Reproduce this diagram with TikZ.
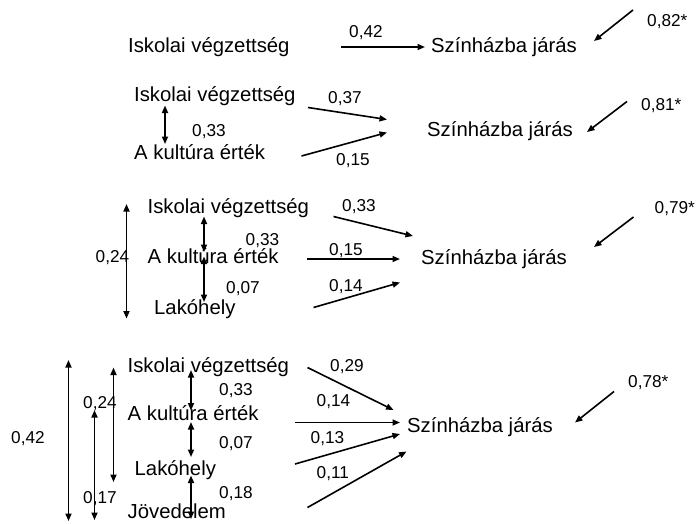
\documentclass[tikz,border=0pt]{standalone}
\usepackage{fontspec}
\setmainfont{Liberation Sans}
\usetikzlibrary{arrows.meta}
\begin{document}
\begin{tikzpicture}[x=1pt,y=-1pt,
  txt/.style={font=\fontsize{20.3}{24}\selectfont, inner sep=0pt, anchor=base west},
  num/.style={font=\fontsize{17.2}{20}\selectfont, inner sep=0pt, anchor=base west},
  arr/.style={-{Triangle[length=7.5pt,width=6pt]}, line width=1.6pt},
  darr/.style={{Triangle[length=7.5pt,width=6pt]}-{Triangle[length=7.5pt,width=6pt]}, line width=1.6pt}]
\useasboundingbox (0,0) rectangle (698,523);

% ---------- Panel 1 ----------
\node[txt] (p1isk) at (128,52) {Iskolai végzettség};
\node[txt] (p1szin) at (431,52.5) {Színházba járás};
\node[num] (p1l42) at (349,37) {0,42};
\node[num] (p1e) at (647,26) {0,82*};
\coordinate (p1a) at (341,47);
\coordinate (p1b) at (425,47);
\draw[arr] (p1a) -- (p1b);
\coordinate (p1ea) at (633,10);
\coordinate (p1eb) at (594,41);
\draw[arr] (p1ea) -- (p1eb);

% ---------- Panel 2 ----------
\node[txt] (p2isk) at (134,101) {Iskolai végzettség};
\node[txt] (p2kul) at (134,159) {A kultúra érték};
\node[txt] (p2szin) at (427,136.5) {Színházba járás};
\node[num] (p2l33) at (192,136) {0,33};
\node[num] (p2l37) at (328,103) {0,37};
\node[num] (p2l15) at (336,165.5) {0,15};
\node[num] (p2e) at (641,110) {0,81*};
\coordinate (p2d1) at (165,105.5);
\coordinate (p2d2) at (165,144);
\draw[darr] (p2d1) -- (p2d2);
\coordinate (p2a1) at (308,107.5);
\coordinate (p2a2) at (387,119.5);
\draw[arr] (p2a1) -- (p2a2);
\coordinate (p2b1) at (301.5,156);
\coordinate (p2b2) at (387,132.5);
\draw[arr] (p2b1) -- (p2b2);
\coordinate (p2ea) at (627,101.5);
\coordinate (p2eb) at (587,132);
\draw[arr] (p2ea) -- (p2eb);

% ---------- Panel 3 ----------
\node[txt] (p3isk) at (147.5,213.5) {Iskolai végzettség};
\node[txt] (p3kul) at (147.5,263.5) {A kultúra érték};
\node[txt] (p3lak) at (154,314.5) {Lakóhely};
\node[txt] (p3szin) at (421,264) {Színházba járás};
\node[num] (p3l24) at (95.5,262.5) {0,24};
\node[num] (p3l33a) at (245.5,245) {0,33};
\node[num] (p3l07) at (226,293.5) {0,07};
\node[num] (p3l33b) at (342,211.5) {0,33};
\node[num] (p3l15) at (329,255.5) {0,15};
\node[num] (p3l14) at (329,291) {0,14};
\node[num] (p3e) at (654.5,213.5) {0,79*};
\coordinate (p3g1) at (126.5,204);
\coordinate (p3g2) at (126.5,318.5);
\draw[darr] (p3g1) -- (p3g2);
\coordinate (p3d1) at (204,216.5);
\coordinate (p3d2) at (204,252);
\draw[darr] (p3d1) -- (p3d2);
\coordinate (p3d3) at (204,256.5);
\coordinate (p3d4) at (204,302);
\draw[darr] (p3d3) -- (p3d4);
\coordinate (p3a1) at (333.5,216.5);
\coordinate (p3a2) at (413,236);
\draw[arr] (p3a1) -- (p3a2);
\coordinate (p3b1) at (307,259);
\coordinate (p3b2) at (400,259);
\draw[arr] (p3b1) -- (p3b2);
\coordinate (p3c1) at (313.5,307.5);
\coordinate (p3c2) at (400,282.5);
\draw[arr] (p3c1) -- (p3c2);
\coordinate (p3ea) at (633.5,217);
\coordinate (p3eb) at (594,247);
\draw[arr] (p3ea) -- (p3eb);

% ---------- Panel 4 ----------
\node[txt] (p4isk) at (127.5,372) {Iskolai végzettség};
\node[txt] (p4kul) at (127.5,420) {A kultúra érték};
\node[txt] (p4lak) at (134.5,475) {Lakóhely};
\node[txt] (p4jov) at (127.5,518) {Jövedelem};
\node[txt] (p4szin) at (407,432.5) {Színházba járás};
\node[num] (p4l42) at (11,443.5) {0,42};
\node[num] (p4l24) at (83,408.5) {0,24};
\node[num] (p4l17) at (83,503.5) {0,17};
\node[num] (p4l33) at (219,395) {0,33};
\node[num] (p4l07) at (219,448) {0,07};
\node[num] (p4l18) at (219,498) {0,18};
\node[num] (p4l29) at (330,371) {0,29};
\node[num] (p4l14) at (316.5,406.5) {0,14};
\node[num] (p4l13) at (310.5,443.5) {0,13};
\node[num] (p4l11) at (316.5,478.5) {0,11};
\node[num] (p4e) at (628,387.5) {0,78*};
\coordinate (p4g1) at (68.5,360);
\coordinate (p4g2) at (68.5,521);
\draw[darr] (p4g1) -- (p4g2);
\coordinate (p4h1) at (94.5,410);
\coordinate (p4h2) at (94.5,520);
\draw[darr] (p4h1) -- (p4h2);
\coordinate (p4i1) at (113.5,367.5);
\coordinate (p4i2) at (113.5,482);
\draw[darr] (p4i1) -- (p4i2);
\coordinate (p4d1) at (191,370);
\coordinate (p4d2) at (191,410.5);
\draw[darr] (p4d1) -- (p4d2);
\coordinate (p4d3) at (191,422);
\coordinate (p4d4) at (191,457);
\draw[darr] (p4d3) -- (p4d4);
\coordinate (p4d5) at (191,475.5);
\coordinate (p4d6) at (191,519);
\draw[darr] (p4d5) -- (p4d6);
\coordinate (p4a1) at (307.5,367.5);
\coordinate (p4a2) at (393.5,410);
\draw[arr] (p4a1) -- (p4a2);
\coordinate (p4b1) at (295,422.5);
\coordinate (p4b2) at (400,422.5);
\draw[arr] (p4b1) -- (p4b2);
\coordinate (p4c1) at (295,464);
\coordinate (p4c2) at (400,434);
\draw[arr] (p4c1) -- (p4c2);
\coordinate (p4f1) at (307.5,507.5);
\coordinate (p4f2) at (406.5,451.5);
\draw[arr] (p4f1) -- (p4f2);
\coordinate (p4ea) at (614,391.5);
\coordinate (p4eb) at (575,422.5);
\draw[arr] (p4ea) -- (p4eb);
\end{tikzpicture}
\end{document}
